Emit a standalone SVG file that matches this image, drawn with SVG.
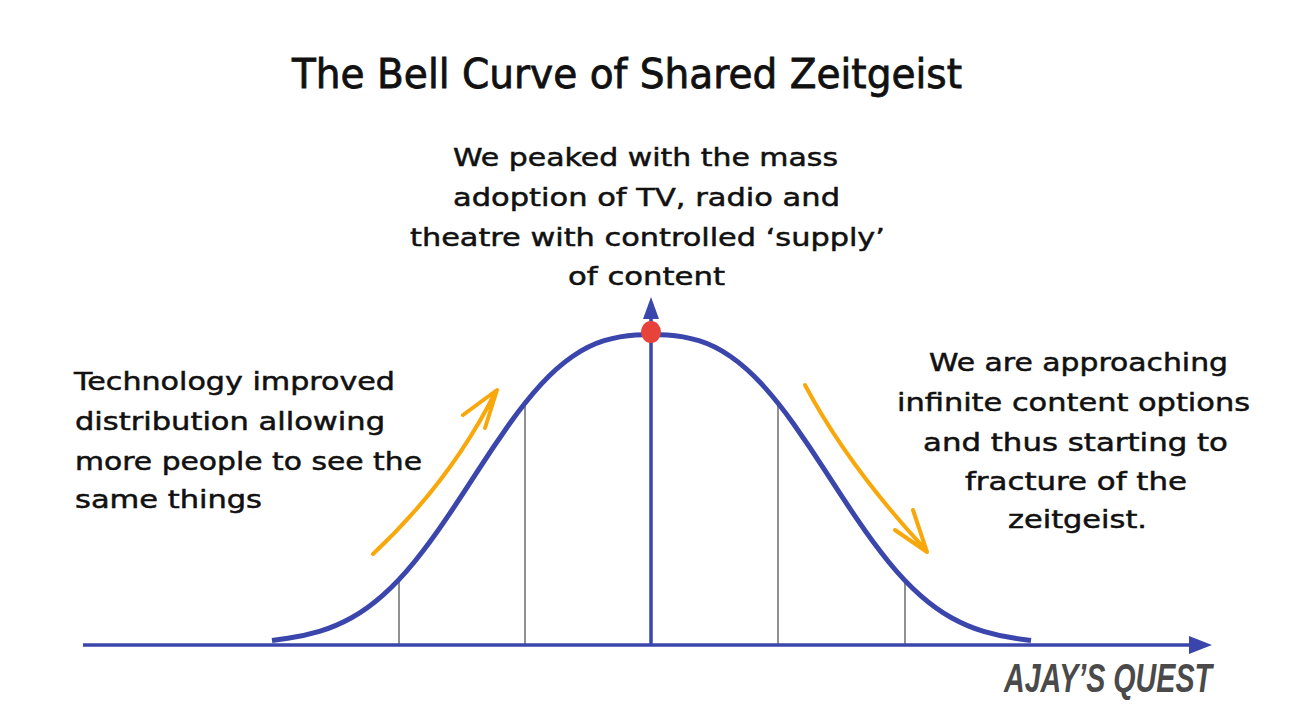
<svg xmlns="http://www.w3.org/2000/svg" width="1292" height="727" viewBox="0 0 1292 727">
  <style>
    .txt { font-family: "DejaVu Sans", "Liberation Sans", sans-serif; fill: #111; stroke: #111; stroke-width: 0.5; }
    .title { font-size: 40px; stroke-width: 0.8; }
    .body { font-size: 25px; }
    .axis { stroke: #3b46ad; stroke-width: 3.5; fill: none; }
    .curve { stroke: #3b46ad; stroke-width: 5; fill: none; stroke-linecap: butt; stroke-linejoin: round; }
    .sigma { stroke: #555; stroke-width: 1.3; }
    .trend { stroke: #f8a80a; stroke-width: 4; fill: none; stroke-linecap: round; stroke-linejoin: round; }
    .mark { font-family: "Liberation Sans Narrow", "Liberation Sans", Arial, sans-serif; font-size: 40px; font-weight: bold; font-style: italic; fill: #4a4a4a; }
  </style>
  <rect width="1292" height="727" fill="#fff"/>

  <g id="title">
    <text class="txt title" x="292" y="88" textLength="670" lengthAdjust="spacingAndGlyphs">The Bell Curve of Shared Zeitgeist</text>
  </g>

  <g id="connectors">
    <line class="sigma" x1="399" y1="645" x2="399" y2="582"/>
    <line class="sigma" x1="525" y1="645" x2="525" y2="401"/>
    <line class="sigma" x1="778" y1="645" x2="778" y2="401"/>
    <line class="sigma" x1="905" y1="645" x2="905" y2="582"/>
    <line class="axis" x1="83" y1="645" x2="1192" y2="645"/>
    <polygon points="1189,636 1212,645 1189,654" fill="#3b46ad"/>
    <line class="axis" x1="651" y1="645" x2="651" y2="316"/>
    <polygon points="643,319 651,297 659,319" fill="#3b46ad"/>
    <path class="curve" d="M272 640.5 L287.8 638.3 Q303.6 636.1 319.4 631.4 Q335.25 626.7 351.1 618 Q366.9 609.3 382.7 595.35 Q398.5 581.4 414.3 562 Q430.1 542.6 445.9 519.2 Q461.75 495.8 477.6 471.2 Q493.4 446.6 509.2 424.25 Q525 401.9 540.8 384.6 Q556.6 367.3 572.4 356.45 Q588.25 345.6 604.1 340.7 Q619.9 335.8 635.7 334.9 Q651.5 334 667.3 334.9 Q683.1 335.8 698.9 340.7 Q714.75 345.6 730.6 356.45 Q746.4 367.3 762.2 384.6 Q778 401.9 793.8 424.25 Q809.6 446.6 825.4 471.2 Q841.25 495.8 857.1 519.2 Q872.9 542.6 888.7 562 Q904.5 581.4 920.3 595.35 Q936.1 609.3 951.9 618 Q967.75 626.7 983.6 631.4 Q999.4 636.1 1015.2 638.3 L1031 640.5"/>
    <path class="trend" d="M373 554 Q451 481 496 391 M463 415 L497 390 L485 428"/>
    <path class="trend" d="M805 385 Q848 466 925 549 M913 510 L927 552 L895 530"/>
  </g>

  <g id="peak">
    <ellipse cx="651" cy="332" rx="10" ry="11" fill="#e8433a"/>
  </g>

  <g id="peak-label">
    <text class="txt body" x="453" y="166" textLength="385" lengthAdjust="spacingAndGlyphs">We peaked with the mass</text>
    <text class="txt body" x="453" y="206" textLength="387" lengthAdjust="spacingAndGlyphs">adoption of TV, radio and</text>
    <text class="txt body" x="410" y="246" textLength="475" lengthAdjust="spacingAndGlyphs">theatre with controlled ‘supply’</text>
    <text class="txt body" x="568" y="285" textLength="157" lengthAdjust="spacingAndGlyphs">of content</text>
  </g>

  <g id="rise-label">
    <text class="txt body" x="74" y="390" textLength="321" lengthAdjust="spacingAndGlyphs">Technology improved</text>
    <text class="txt body" x="75" y="430" textLength="310" lengthAdjust="spacingAndGlyphs">distribution allowing</text>
    <text class="txt body" x="75" y="470" textLength="347" lengthAdjust="spacingAndGlyphs">more people to see the</text>
    <text class="txt body" x="75" y="508" textLength="187" lengthAdjust="spacingAndGlyphs">same things</text>
  </g>

  <g id="fall-label">
    <text class="txt body" x="929" y="371" textLength="299" lengthAdjust="spacingAndGlyphs">We are approaching</text>
    <text class="txt body" x="897" y="411" textLength="353" lengthAdjust="spacingAndGlyphs">infinite content options</text>
    <text class="txt body" x="923" y="451" textLength="305" lengthAdjust="spacingAndGlyphs">and thus starting to</text>
    <text class="txt body" x="965" y="490" textLength="222" lengthAdjust="spacingAndGlyphs">fracture of the</text>
    <text class="txt body" x="1008" y="528" textLength="139" lengthAdjust="spacingAndGlyphs">zeitgeist.</text>
  </g>

  <g id="watermark">
    <text class="mark" x="1004" y="692" textLength="208" lengthAdjust="spacingAndGlyphs">AJAY’S QUEST</text>
  </g>
</svg>
